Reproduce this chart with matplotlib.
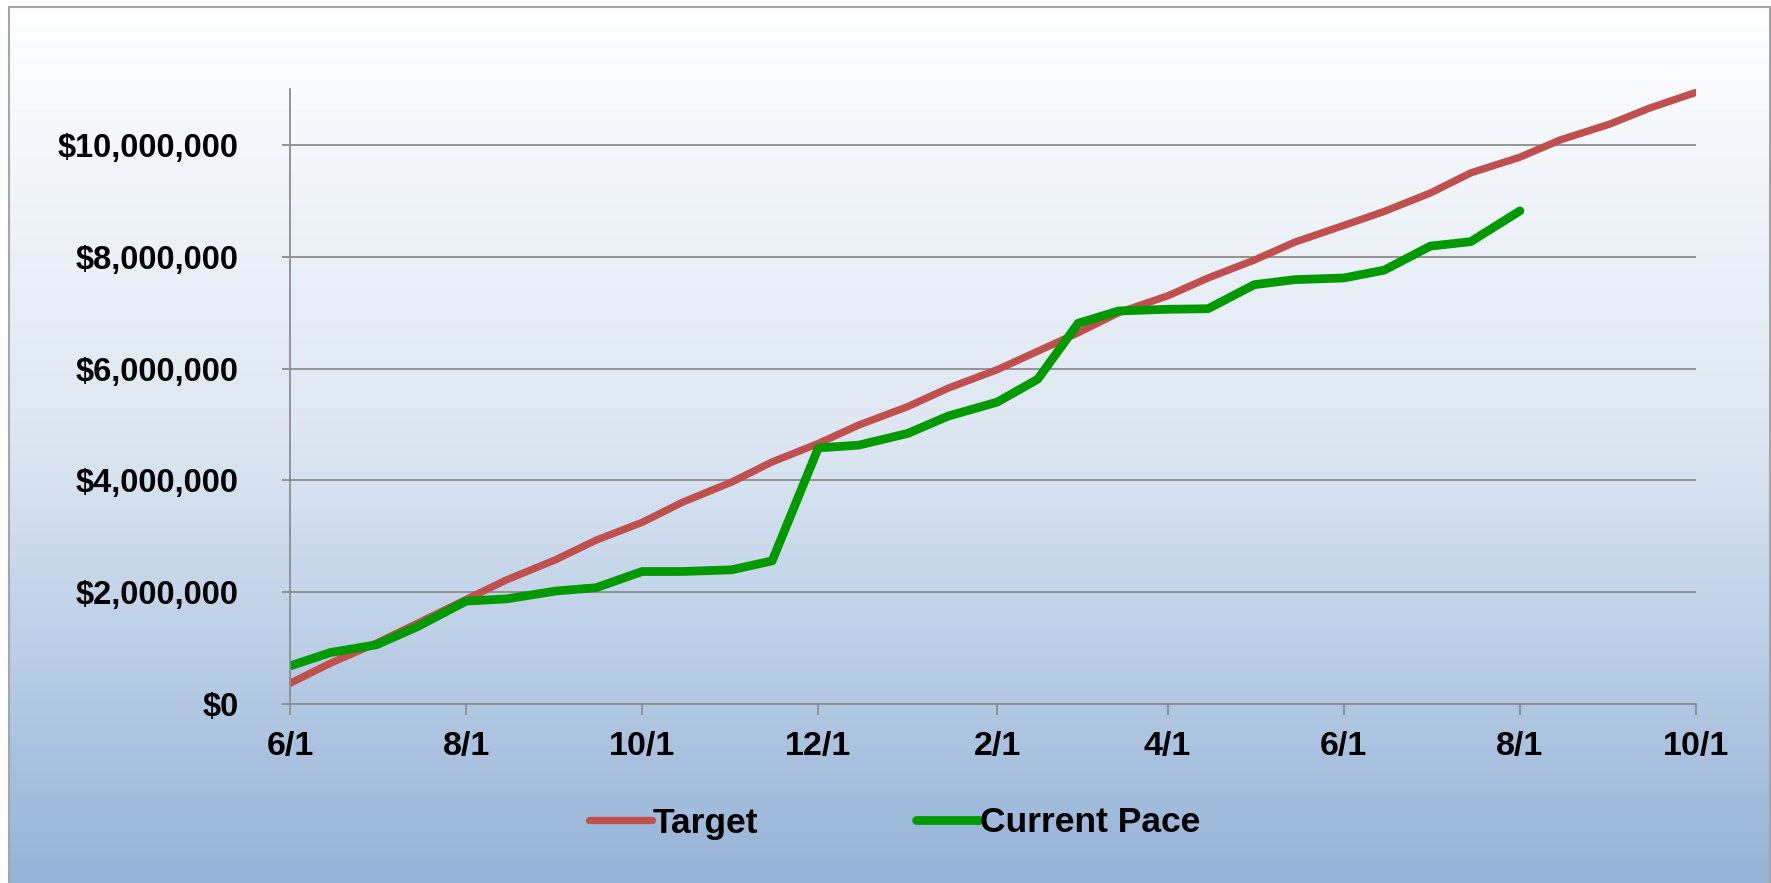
import matplotlib
matplotlib.use("Agg")
import matplotlib.pyplot as plt
import matplotlib.dates as mdates
from matplotlib.colors import LinearSegmentedColormap
from matplotlib.patches import Rectangle
from matplotlib.ticker import FuncFormatter, MultipleLocator
import numpy as np
import pandas as pd

# half-monthly points, 6/1 through 10/1 of the following year
dates = pd.to_datetime([
    "2010-06-01", "2010-06-15", "2010-07-01", "2010-07-15",
    "2010-08-01", "2010-08-15", "2010-09-01", "2010-09-15",
    "2010-10-01", "2010-10-15", "2010-11-01", "2010-11-15",
    "2010-12-01", "2010-12-15", "2011-01-01", "2011-01-15",
    "2011-02-01", "2011-02-15", "2011-03-01", "2011-03-15",
    "2011-04-01", "2011-04-15", "2011-05-01", "2011-05-15",
    "2011-06-01", "2011-06-15", "2011-07-01", "2011-07-15",
    "2011-08-01", "2011-08-15", "2011-09-01", "2011-09-15",
    "2011-10-01",
])

target = [
    370000, 730000, 1090000, 1440000, 1870000, 2220000, 2580000, 2930000,
    3250000, 3610000, 3970000, 4330000, 4660000, 4990000, 5320000, 5650000,
    5980000, 6310000, 6640000, 7000000, 7300000, 7620000, 7940000, 8260000,
    8560000, 8810000, 9140000, 9500000, 9780000, 10090000, 10370000, 10660000,
    10940000,
]

# current pace stops at 8/1
current_pace = [
    680000, 920000, 1060000, 1380000, 1840000, 1880000, 2020000, 2080000,
    2370000, 2370000, 2400000, 2560000, 4580000, 4630000, 4840000, 5150000,
    5400000, 5810000, 6810000, 7030000, 7060000, 7070000, 7500000, 7590000,
    7620000, 7760000, 8190000, 8270000, 8820000,
]

series_names = ["Target", "Current Pace"]
series_colors = ["#C0504D", "#009900"]

plt.rcParams["font.family"] = ["Liberation Sans", "DejaVu Sans"]
plt.rcParams["font.weight"] = "bold"
plt.rcParams["font.size"] = 24

W, H = 1771, 883
fig = plt.figure(figsize=(W / 100, H / 100), dpi=100)
fig.patch.set_facecolor("white")

# gradient background inside the chart frame
bg = fig.add_axes([9 / W, 0, 1 - 9 / W, 1 - 7 / H], zorder=-10)
cmap = LinearSegmentedColormap.from_list(
    "bg", [(0, "#FFFFFF"), (0.5, "#DCE6F2"), (1.0, "#95B3D7")])
grad = np.linspace(0, 1, 256).reshape(-1, 1)
bg.imshow(grad, aspect="auto", cmap=cmap, extent=[0, 1, 0, 1], origin="upper")
bg.set_axis_off()
fig.patches.append(Rectangle((9 / W, -0.01), 1 - 10 / W, 1 - 7 / H + 0.01,
                             transform=fig.transFigure, fill=False,
                             edgecolor="#A6A6A6", linewidth=1.5))

ax = fig.add_axes([290 / W, 1 - 704 / H, 1406 / W, 615 / H])
ax.patch.set_alpha(0)

ax.plot(dates, target, color=series_colors[0], lw=5.3,
        solid_capstyle="round", solid_joinstyle="round", label=series_names[0])
ax.plot(dates[:len(current_pace)], current_pace, color=series_colors[1], lw=6.3,
        solid_capstyle="round", solid_joinstyle="round", label=series_names[1])

ax.set_ylim(0, 11000000)
ax.set_xlim(dates[0], dates[-1])
ax.yaxis.set_major_locator(MultipleLocator(2000000))
ax.yaxis.set_major_formatter(FuncFormatter(lambda v, p: f"${v:,.0f}"))
ax.xaxis.set_major_locator(mdates.MonthLocator(bymonth=[2, 4, 6, 8, 10, 12]))
ax.xaxis.set_major_formatter(
    FuncFormatter(lambda v, p: f"{mdates.num2date(v).month}/{mdates.num2date(v).day}"))

ax.grid(axis="y", color="#8C8C8C", lw=1.3)
ax.set_axisbelow(True)
for s in ["top", "right"]:
    ax.spines[s].set_visible(False)
for s in ["left", "bottom"]:
    ax.spines[s].set_color("#8C8C8C")
    ax.spines[s].set_linewidth(1.3)
ax.tick_params(axis="y", length=5.8, width=1.3, color="#8C8C8C", pad=31,
               labelsize=23.5)
ax.tick_params(axis="x", length=7.7, width=1.3, color="#8C8C8C", pad=12,
               labelsize=24.5)

fig.legend(loc="center left", bbox_to_anchor=(589 / W, 1 - 823 / H),
           ncol=2, frameon=False, borderpad=0, borderaxespad=0,
           fontsize=25.5, handlelength=1.78, handletextpad=0.03,
           columnspacing=4.43)

fig.savefig("out.png", dpi=100, facecolor=fig.get_facecolor())
